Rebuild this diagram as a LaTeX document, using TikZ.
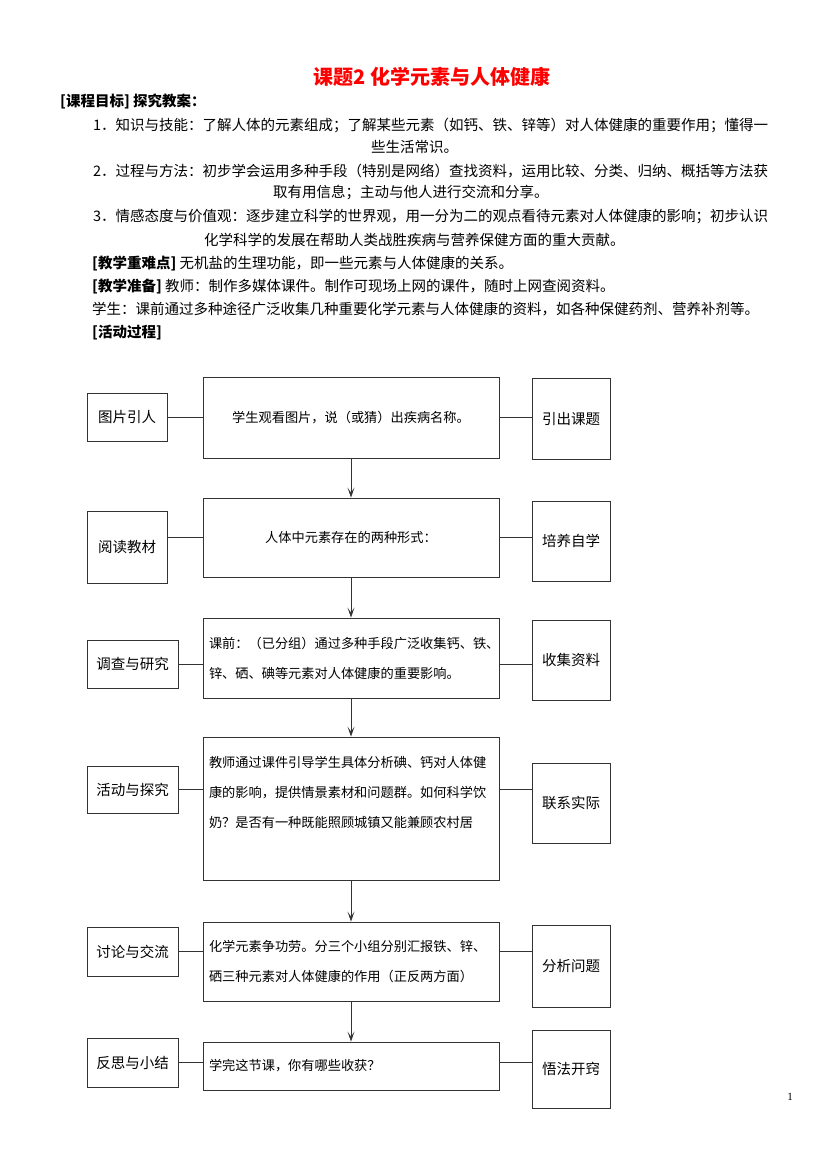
\documentclass[tikz,border=0pt]{standalone}
\usepackage{fontspec}
\setmainfont{Noto Sans CJK SC}
\newfontfamily\numfont{Liberation Serif}
\usetikzlibrary{arrows.meta}

\tikzset{
  box/.style={draw=black!80, line width=0.9pt, inner sep=0pt, font=\fontsize{14.5}{17}\selectfont},
  stage/.style={box, minimum width=296pt, font=\fontsize{13.2}{30}\selectfont},
  stagetext/.style={stage, text width=284pt, align=left, inner xsep=6pt},
  line/.style={draw=black!80, line width=0.9pt},
  arr/.style={line, -{Stealth[length=10pt,width=7pt,inset=5pt]}},
  txt/.style={anchor=west, inner sep=0pt, font=\fontsize{14.5}{17}\selectfont},
}

\begin{document}
\begin{tikzpicture}[x=1pt,y=-1pt]
\path[fill=white] (0,0) rectangle (827,1170);
\useasboundingbox (0,0) rectangle (827,1170);

% heading and aims
\node[inner sep=0pt, text=red, font=\fontsize{20}{24}\selectfont\bfseries] (title) at (432,77) {课题2 化学元素与人体健康};
\node[txt, font=\fontsize{14.5}{17}\selectfont\bfseries] (goal) at (60,101) {[课程目标] 探究教案：};
\node[txt] (aim1) at (93,125) {1．知识与技能：了解人体的元素组成；了解某些元素（如钙、铁、锌等）对人体健康的重要作用；懂得一};
\node[txt] (aim1b) at (371,147) {些生活常识。};
\node[txt] (aim2) at (93,171) {2．过程与方法：初步学会运用多种手段（特别是网络）查找资料，运用比较、分类、归纳、概括等方法获};
\node[txt] (aim2b) at (273,193) {取有用信息；主动与他人进行交流和分享。};
\node[txt] (aim3) at (93,217) {3．情感态度与价值观：逐步建立科学的世界观，用一分为二的观点看待元素对人体健康的影响；初步认识};
\node[txt] (aim3b) at (204,240) {化学科学的发展在帮助人类战胜疾病与营养保健方面的重大贡献。};
\node[txt] (key) at (92,263) {\textbf{[教学重难点]} 无机盐的生理功能，即一些元素与人体健康的关系。};
\node[txt] (prep) at (92,286) {\textbf{[教学准备]} 教师：制作多媒体课件。制作可现场上网的课件，随时上网查阅资料。};
\node[txt] (stud) at (92,309) {学生：课前通过多种途径广泛收集几种重要化学元素与人体健康的资料，如各种保健药剂、营养补剂等。};
\node[txt, font=\fontsize{14.5}{17}\selectfont\bfseries] (proc) at (92,333) {[活动过程]};

% left column
\node[box, minimum width=80pt, minimum height=48pt] (l1) at (127,417) {图片引人};
\node[box, minimum width=80pt, minimum height=72pt] (l2) at (127,547) {阅读教材};
\node[box, minimum width=91pt, minimum height=48pt] (l3) at (132.5,664) {调查与研究};
\node[box, minimum width=91pt, minimum height=47pt] (l4) at (132.5,789.5) {活动与探究};
\node[box, minimum width=91pt, minimum height=49pt] (l5) at (132.5,951.5) {讨论与交流};
\node[box, minimum width=91pt, minimum height=49pt] (l6) at (132.5,1062.5) {反思与小结};

% middle column
\node[stage, minimum height=81pt] (m1) at (351,417.5) {学生观看图片，说（或猜）出疾病名称。};
\node[stage, minimum height=79pt] (m2) at (351,537.5) {人体中元素存在的两种形式：};
\node[stagetext, minimum height=80pt] (m3) at (351,658) {课前：（已分组）通过多种手段广泛收集钙、铁、\\锌、硒、碘等元素对人体健康的重要影响。};
\node[stagetext, minimum height=143pt] (m4) at (351,808.5) {教师通过课件引导学生具体分析碘、钙对人体健\\康的影响，提供情景素材和问题群。如何科学饮\\奶？是否有一种既能照顾城镇又能兼顾农村居\rule[-34pt]{0pt}{0pt}};
\node[stagetext, minimum height=79pt] (m5) at (351,961.5) {化学元素争功劳。分三个小组分别汇报铁、锌、\\硒三种元素对人体健康的作用（正反两方面）};
\node[stagetext, minimum height=48pt] (m6) at (351,1066) {学完这节课，你有哪些收获？};

% right column
\node[box, minimum width=78pt, minimum height=81pt] (r1) at (571,418.5) {引出课题};
\node[box, minimum width=78pt, minimum height=80pt] (r2) at (571,541) {培养自学};
\node[box, minimum width=78pt, minimum height=80pt] (r3) at (571,660) {收集资料};
\node[box, minimum width=78pt, minimum height=80pt] (r4) at (571,803) {联系实际};
\node[box, minimum width=78pt, minimum height=82pt] (r5) at (571,966) {分析问题};
\node[box, minimum width=78pt, minimum height=78pt] (r6) at (571,1069) {悟法开窍};

% connectors
\foreach \r in {1,3,4,5,6}
  \draw[line] (l\r.east) -- (l\r.east -| m\r.west) (m\r.east |- l\r.east) -- (r\r.west |- l\r.east);
\draw[line] (l2.east |- m2.west) -- (m2.west) (m2.east) -- (r2.west |- m2.east);
\foreach \a/\b in {m1/m2,m2/m3,m3/m4,m4/m5,m5/m6}
  \draw[arr] (\a) -- (\b);

\node[inner sep=0pt, font=\numfont\fontsize{11}{12}\selectfont] (pnum) at (790,1097) {1};
\end{tikzpicture}
\end{document}
